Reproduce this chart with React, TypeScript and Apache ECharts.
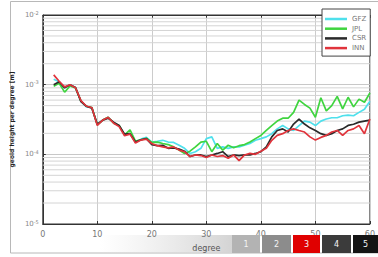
import React, { useEffect, useRef } from "react";
import * as echarts from "echarts";

const degrees = [2, 3, 4, 5, 6, 7, 8, 9, 10, 11, 12, 13, 14, 15, 16, 17, 18, 19, 20, 21, 22, 23, 24, 25, 26, 27, 28, 29, 30, 31, 32, 33, 34, 35, 36, 37, 38, 39, 40, 41, 42, 43, 44, 45, 46, 47, 48, 49, 50, 51, 52, 53, 54, 55, 56, 57, 58, 59, 60];

const gfz = [1.2e-3, 1.1e-3, 9.0e-4, 1.0e-3, 9.0e-4, 5.8e-4, 4.8e-4, 4.7e-4, 2.65e-4, 3.1e-4, 3.4e-4, 2.85e-4, 2.55e-4, 1.9e-4, 2.0e-4, 1.5e-4, 1.65e-4, 1.75e-4,
  1.5e-4, 1.54e-4, 1.59e-4, 1.5e-4, 1.48e-4, 1.35e-4, 1.22e-4, 1.03e-4, 1.09e-4, 1.22e-4, 1.68e-4, 1.78e-4, 1.22e-4, 1.28e-4, 1.22e-4, 1.28e-4, 1.28e-4, 1.35e-4, 1.43e-4, 1.59e-4,
  1.68e-4, 1.78e-4, 1.98e-4, 2.32e-4, 2.59e-4, 2.32e-4, 2.2e-4, 2.59e-4, 3.0e-4, 2.9e-4, 2.59e-4, 3.0e-4, 3.21e-4, 3.35e-4, 3.35e-4, 3.58e-4, 3.66e-4, 3.58e-4, 4.0e-4, 4.45e-4, 5.8e-4];

const jpl = [9.5e-4, 1.05e-3, 7.8e-4, 9.6e-4, 9.0e-4, 5.8e-4, 4.9e-4, 4.7e-4, 2.65e-4, 3.1e-4, 3.4e-4, 2.8e-4, 2.6e-4, 1.9e-4, 2.25e-4, 1.55e-4, 1.62e-4, 1.7e-4,
  1.48e-4, 1.5e-4, 1.43e-4, 1.38e-4, 1.28e-4, 1.15e-4, 1.03e-4, 1.11e-4, 1.28e-4, 1.5e-4, 1.54e-4, 1.09e-4, 1.43e-4, 1.15e-4, 1.35e-4, 1.24e-4, 1.33e-4, 1.38e-4, 1.5e-4, 1.68e-4,
  1.87e-4, 2.2e-4, 2.59e-4, 3.0e-4, 3.3e-4, 3.3e-4, 4.0e-4, 6.0e-4, 5.2e-4, 4.6e-4, 3.4e-4, 6.5e-4, 4.2e-4, 5.0e-4, 6.8e-4, 4.5e-4, 6.6e-4, 4.8e-4, 6.2e-4, 5.6e-4, 7.6e-4];

const csr = [1.0e-3, 1.1e-3, 9.0e-4, 1.0e-3, 9.1e-4, 5.7e-4, 4.9e-4, 4.6e-4, 2.7e-4, 3.1e-4, 3.3e-4, 2.9e-4, 2.6e-4, 1.95e-4, 1.98e-4, 1.5e-4, 1.62e-4, 1.68e-4,
  1.38e-4, 1.33e-4, 1.35e-4, 1.22e-4, 1.24e-4, 1.19e-4, 1.11e-4, 0.93e-4, 0.98e-4, 0.98e-4, 0.93e-4, 0.98e-4, 1.03e-4, 1.09e-4, 0.93e-4, 0.98e-4, 0.96e-4, 0.98e-4, 0.98e-4, 1.03e-4,
  1.09e-4, 1.28e-4, 1.78e-4, 2.2e-4, 2.32e-4, 2.09e-4, 2.72e-4, 3.21e-4, 2.72e-4, 2.4e-4, 2.2e-4, 1.98e-4, 1.87e-4, 1.98e-4, 2.2e-4, 2.32e-4, 2.6e-4, 2.7e-4, 2.9e-4, 3.0e-4, 3.1e-4];

const inn = [1.38e-3, 1.12e-3, 9.3e-4, 1.0e-3, 9.0e-4, 5.9e-4, 4.9e-4, 4.7e-4, 2.6e-4, 3.1e-4, 3.4e-4, 2.8e-4, 2.5e-4, 1.85e-4, 1.95e-4, 1.45e-4, 1.6e-4, 1.65e-4,
  1.43e-4, 1.33e-4, 1.28e-4, 1.24e-4, 1.28e-4, 1.15e-4, 1.09e-4, 0.93e-4, 0.98e-4, 0.96e-4, 0.90e-4, 0.98e-4, 0.93e-4, 0.96e-4, 0.88e-4, 0.98e-4, 0.81e-4, 0.98e-4, 1.03e-4, 1.0e-4,
  1.11e-4, 1.22e-4, 1.59e-4, 1.87e-4, 1.98e-4, 2.2e-4, 2.32e-4, 2.2e-4, 2.09e-4, 1.78e-4, 1.6e-4, 1.75e-4, 1.87e-4, 2.09e-4, 2.2e-4, 1.87e-4, 2.2e-4, 2.32e-4, 2.59e-4, 1.98e-4, 3.21e-4];

const seriesNames = ["GFZ", "JPL", "CSR", "INN"];
const seriesColors = ["#4fe0ec", "#3fd43f", "#2a2a2a", "#e0343c"];
const minorGrid = [2e-5, 3e-5, 4e-5, 5e-5, 6e-5, 7e-5, 8e-5, 9e-5, 2e-4, 3e-4, 4e-4, 5e-4, 6e-4, 7e-4, 8e-4, 9e-4, 2e-3, 3e-3, 4e-3, 5e-3, 6e-3, 7e-3, 8e-3, 9e-3];
const buttonLabels = ["1", "2", "3", "4", "5"];
const buttonColors = ["#b3b3b3", "#8c8c8c", "#e00000", "#3b3b3b", "#141414"];

export default function App() {
  const ref = useRef<HTMLDivElement>(null);
  useEffect(() => {
    document.body.style.margin = "0";
    const chart = echarts.init(ref.current!, null, { renderer: "svg" });
    const allSeries = [gfz, jpl, csr, inn];
    const btnX = [232, 262, 293, 322, 353];
    const btnW = [28, 29, 27, 29, 25];
    const graphics: any[] = [
      {
        type: "rect",
        shape: { x: 10.5, y: 1.5, width: 380, height: 251.5 },
        style: { fill: "none", stroke: "#b8b8b8", lineWidth: 1 },
        z: -5,
      },
      {
        type: "rect",
        shape: { x: 100, y: 235, width: 132, height: 18 },
        style: {
          fill: new echarts.graphic.LinearGradient(0, 0, 1, 0, [
            { offset: 0, color: "rgba(225,225,225,0)" },
            { offset: 1, color: "#d4d4d4" },
          ]),
        },
        z: -1,
      },
    ];
    buttonLabels.forEach((lab, i) => {
      graphics.push({
        type: "rect",
        shape: { x: btnX[i], y: 235, width: btnW[i], height: 18 },
        style: { fill: buttonColors[i] },
        z: 100,
      });
      graphics.push({
        type: "text",
        x: btnX[i] + btnW[i] / 2,
        y: 244,
        style: { text: lab, fill: "#f4f4f4", fontSize: 8, align: "center", verticalAlign: "middle", fontFamily: "DejaVu Sans" },
        z: 101,
      });
    });
    const minorData: any[] = [];
    minorGrid.forEach((v) => {
      minorData.push([0, v], [60, v], [60, "-"]);
    });
    const option: any = {
      animation: false,
      backgroundColor: "#ffffff",
      textStyle: { fontFamily: "DejaVu Sans" },
      grid: { left: 42, right: 2, top: 15, bottom: 29, show: true, borderColor: "#333", borderWidth: 1 },
      legend: {
        data: seriesNames,
        orient: "vertical",
        left: 322,
        top: 9,
        icon: "rect",
        itemWidth: 22,
        itemHeight: 2.5,
        itemGap: 1.7,
        padding: [6, 4, 4, 3],
        backgroundColor: "#fff",
        borderColor: "#444",
        borderWidth: 1,
        textStyle: { fontSize: 7, color: "#777", lineHeight: 8, padding: [0, 0, 0, 0] },
      },
      xAxis: [
        {
          type: "value",
          min: 0,
          max: 60,
          interval: 10,
          name: "degree",
          nameLocation: "middle",
          nameGap: 20,
          nameTextStyle: { fontSize: 8, color: "#555" },
          axisLine: { show: true, lineStyle: { color: "#333" } },
          axisTick: { show: true, inside: true, length: 3, lineStyle: { color: "#333" } },
          axisLabel: { fontSize: 8, color: "#777", margin: 6 },
          splitLine: { show: true, lineStyle: { color: "#cccccc", width: 1 } },
        },
        {
          type: "value",
          position: "top",
          min: 0,
          max: 60,
          interval: 10,
          axisLine: { show: true, lineStyle: { color: "#333" } },
          axisTick: { show: true, inside: true, length: 3, lineStyle: { color: "#333" } },
          axisLabel: { show: false },
          splitLine: { show: false },
        },
      ],
      yAxis: [
        {
          type: "log",
          logBase: 10,
          min: 1e-5,
          max: 1e-2,
          name: "geoid height per degree [m]",
          nameLocation: "middle",
          nameGap: 24,
          nameTextStyle: { fontSize: 6, color: "#222", fontWeight: "bold" },
          axisLine: { show: true, lineStyle: { color: "#333" } },
          axisTick: { show: true, inside: true, length: 3, lineStyle: { color: "#333" } },
          splitLine: { show: true, lineStyle: { color: "#c8c8c8", width: 1 } },
          axisLabel: {
            margin: 4,
            formatter: (v: number) => `{b|10}{s|${Math.round(Math.log10(v))}}`,
            rich: {
              b: { fontSize: 7, color: "#888" },
              s: { fontSize: 5, color: "#888", padding: [0, 0, 5, 0] },
            },
          },
        },
      ],
      graphic: graphics,
      series: [
        {
          type: "line",
          name: "minor grid",
          data: minorData,
          silent: true,
          showSymbol: false,
          symbol: "none",
          connectNulls: false,
          lineStyle: { color: "#d4d4d4", width: 1 },
          emphasis: { disabled: true },
        },
        ...allSeries.map((arr, i) => ({
          type: "line",
          name: seriesNames[i],
          data: degrees.map((d, j) => [d, arr[j]]),
          showSymbol: false,
          symbol: "none",
          lineStyle: { color: seriesColors[i], width: 1.7 },
          itemStyle: { color: seriesColors[i] },
        })),
      ],
    };
    chart.setOption(option);
    return () => chart.dispose();
  }, []);
  return <div ref={ref} style={{ position: "absolute", left: 0, top: 0, width: 378, height: 257 }} />;
}
